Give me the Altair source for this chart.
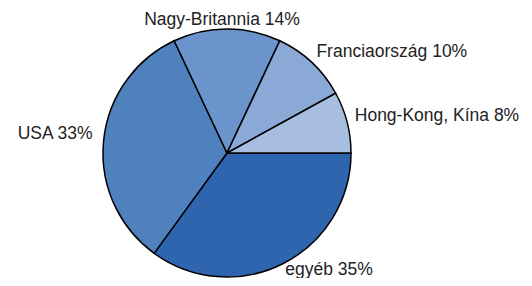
import math
import altair as alt
import pandas as pd

categories = ["egyéb", "USA", "Nagy-Britannia", "Franciaország", "Hong-Kong, Kína"]
values = [35, 33, 14, 10, 8]
colors = ["#2F65AF", "#4F81BF", "#6B94CD", "#8AA9D7", "#A8BEE1"]
label_align = ["left", "right", "center", "left", "left"]

df = pd.DataFrame({"cat": categories, "val": values, "order": list(range(len(values)))})
df["label"] = [f"{c} {v}%" for c, v in zip(categories, values)]
df["align"] = label_align
total = sum(values)
cum = df["val"].cumsum()
df["mid"] = math.pi / 2 + 2 * math.pi * (cum - df["val"] / 2) / total

CX, CY = 219, 145
R = 124
LR = 135

base = alt.Chart(df)

pie = base.mark_arc(stroke="#000000", strokeWidth=1.5, radius=R).encode(
    theta=alt.Theta("val:Q", stack=True,
                    scale=alt.Scale(range=[math.pi / 2, math.pi / 2 + 2 * math.pi])),
    order=alt.Order("order:Q"),
    color=alt.Color("cat:N", scale=alt.Scale(domain=categories, range=colors), legend=None),
    x=alt.value(CX),
    y=alt.value(CY),
)

def label_layer(align, dx=0, dy=0):
    return base.transform_filter(alt.datum.align == align).mark_text(
        align=align, baseline="middle", font="Liberation Sans", fontSize=17.5,
        color="#222222", radius=LR, dx=dx, dy=dy
    ).encode(
        theta=alt.Theta("mid:Q", scale=None),
        text="label:N",
        x=alt.value(CX),
        y=alt.value(CY),
    )

chart = alt.layer(
    pie,
    label_layer("left", dx=-3, dy=-3),
    label_layer("right", dy=-6),
    label_layer("center", dx=-5, dy=2),
).properties(
    width=516, height=270, padding=0, autosize=alt.AutoSizeParams(type="none")
).configure_view(stroke=None)

chart.save("out.html", embed_options={"renderer": "svg", "actions": False})
